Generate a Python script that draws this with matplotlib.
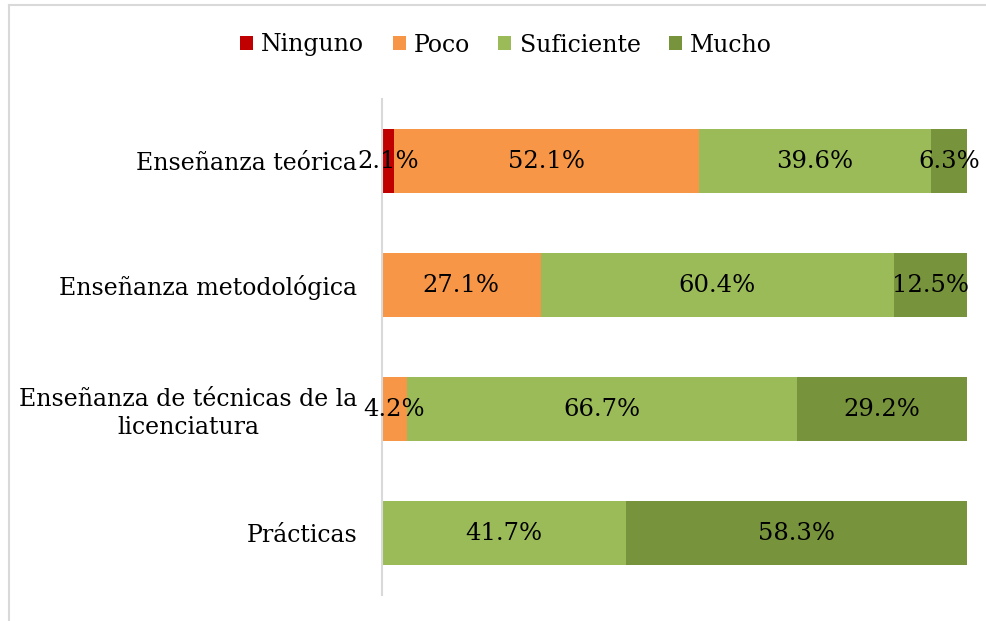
import numpy as np
import matplotlib.pyplot as plt
from matplotlib.lines import Line2D

plt.rcParams['font.family'] = ['DejaVu Serif']

categories = ['Enseñanza teórica', 'Enseñanza metodológica',
              'Enseñanza de técnicas de la\nlicenciatura', 'Prácticas']
series = ['Ninguno', 'Poco', 'Suficiente', 'Mucho']
ninguno = [2.1, 0.0, 0.0, 0.0]
poco = [52.1, 27.1, 4.2, 0.0]
suficiente = [39.6, 60.4, 66.7, 41.7]
mucho = [6.3, 12.5, 29.2, 58.3]
colors = ['#C00000', '#F79646', '#9BBB59', '#77933C']

values = [ninguno, poco, suficiente, mucho]
y = np.arange(len(categories))
fs = 17

fig = plt.figure(figsize=(9.86, 6.21), dpi=100)
ax = fig.add_axes([382 / 986, 1 - 595 / 621, (967 - 382) / 986, (595 - 99) / 621])

left = np.zeros(len(categories))
for name, vals, col in zip(series, values, colors):
    vals = np.array(vals)
    bars = ax.barh(y, vals, left=left, height=0.52, color=col, label=name)
    for b, v in zip(bars, vals):
        if v > 0:
            ax.text(b.get_x() + b.get_width() / 2, b.get_y() + b.get_height() / 2,
                    f'{v:.1f}%', ha='center', va='center', fontsize=17.5, color='black')
    left += vals

ax.set_xlim(0, 100)
ax.set_ylim(len(categories) - 0.5, -0.5)
ax.set_yticks(y)
ax.set_yticklabels(categories, fontsize=fs, multialignment='center', linespacing=1.25)
ax.tick_params(axis='y', length=0, pad=18)
ax.set_xticks([])
for s in ['top', 'right', 'bottom']:
    ax.spines[s].set_visible(False)
ax.spines['left'].set_color('#D9D9D9')
ax.spines['left'].set_linewidth(1.5)

fig.legend(loc='center', bbox_to_anchor=(506 / 986, 1 - 45 / 621), ncol=4,
           frameon=False, fontsize=fs, handlelength=0.55, handleheight=0.55,
           handletextpad=0.35, columnspacing=1.2)

# outer chart border (top and left edges)
fig.add_artist(Line2D([9 / 986, 9 / 986], [0, 1 - 4.5 / 621], transform=fig.transFigure,
                      color='#D9D9D9', linewidth=1.5))
fig.add_artist(Line2D([9 / 986, 1], [1 - 4.5 / 621, 1 - 4.5 / 621], transform=fig.transFigure,
                      color='#D9D9D9', linewidth=1.5))

fig.savefig('out.png', dpi=100)
